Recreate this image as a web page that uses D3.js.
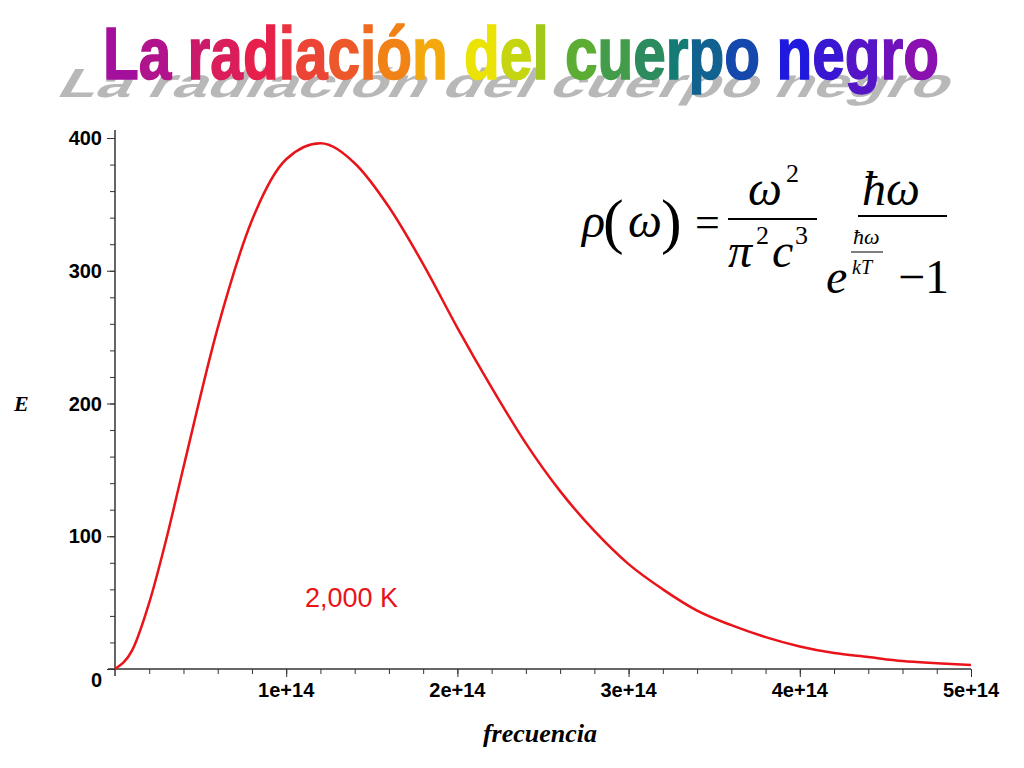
<!DOCTYPE html>
<html>
<head>
<meta charset="utf-8">
<title>La radiación del cuerpo negro</title>
<script src="https://d3js.org/d3.v7.min.js"></script>
<style>body{margin:0;background:#fff}</style>
</head>
<body>
<div id="viz"></div>
<script>
// frequency in units of 1e13, energy E
var freq = [0, 1, 2, 3, 4, 6, 8, 10, 12, 14, 16, 18, 20, 22, 24, 26, 28, 30, 32, 34, 36, 38, 40, 42, 44, 46, 48, 50];
var energy = [0, 14, 50, 98, 152, 257, 338, 384, 396, 381, 348, 305, 257, 212, 170, 134, 104, 79, 60, 44, 33, 24, 17, 12, 9, 6, 4.4, 3.1];
var xTicks = [10, 20, 30, 40, 50];
var xTickLabels = ["1e+14", "2e+14", "3e+14", "4e+14", "5e+14"];
var yTicks = [0, 100, 200, 300, 400];
var title = "La radiación del cuerpo negro";

var svg = d3.select("#viz").append("svg").attr("width", 1024).attr("height", 768);

// title with rainbow letters and gray shadow
var rainbow = d3.scaleLinear()
  .domain([0, 0.18, 0.35, 0.45, 0.6, 0.72, 0.85, 1])
  .range(["#a4109c", "#e8204a", "#f07a18", "#f8e800", "#60b030", "#107878", "#1a1ae0", "#8a10b0"]);
svg.append("text")
  .attr("transform", "translate(55,97) skewX(-30) scale(1,0.55)")
  .attr("font-family", "Liberation Sans").attr("font-weight", "bold")
  .attr("font-size", 74).attr("fill", "#b8b8b8")
  .attr("textLength", 890).attr("lengthAdjust", "spacingAndGlyphs")
  .text(title);
var t = svg.append("text").attr("x", 103).attr("y", 79)
  .attr("font-family", "Liberation Sans").attr("font-weight", "bold")
  .attr("font-size", 74).attr("textLength", 836).attr("lengthAdjust", "spacingAndGlyphs")
  .attr("stroke-width", 1.5);
t.selectAll("tspan").data(title.split("")).enter().append("tspan")
  .attr("fill", function(d, i) { return rainbow(i / (title.length - 1)); })
  .attr("stroke", function(d, i) { return rainbow(i / (title.length - 1)); })
  .text(function(d) { return d; });

var x = d3.scaleLinear().domain([0, 50]).range([115, 971]);
var y = d3.scaleLinear().domain([0, 400]).range([669, 138]);

// axes
svg.append("g").attr("transform", "translate(0,669)")
  .call(d3.axisBottom(x).tickValues(d3.range(2, 51, 2)).tickSize(5).tickFormat(""))
  .call(function(g) { g.select(".domain").remove(); });
svg.append("g").attr("transform", "translate(0,669)")
  .call(d3.axisBottom(x).tickValues(xTicks).tickSize(8).tickFormat(""))
  .call(function(g) { g.select(".domain").remove(); });
svg.append("line").attr("x1", 108).attr("x2", 971).attr("y1", 669).attr("y2", 669)
  .attr("stroke", "#333").attr("stroke-width", 1.5);
svg.append("g").attr("transform", "translate(115,0)")
  .call(d3.axisLeft(y).tickValues(d3.range(20, 401, 20)).tickSize(5).tickFormat(""))
  .call(function(g) { g.select(".domain").remove(); });
svg.append("g").attr("transform", "translate(115,0)")
  .call(d3.axisLeft(y).tickValues(yTicks).tickSize(8).tickFormat(""))
  .call(function(g) { g.select(".domain").remove(); });
svg.append("line").attr("x1", 115).attr("x2", 115).attr("y1", 130).attr("y2", 676)
  .attr("stroke", "#333").attr("stroke-width", 1.5);
svg.selectAll(".tick line").attr("stroke", "#333");

svg.selectAll(".xl").data(xTicks).enter().append("text")
  .attr("x", function(d) { return x(d); }).attr("y", 697)
  .attr("text-anchor", "middle").attr("font-family", "Liberation Sans").attr("font-weight", "bold")
  .attr("font-size", 20).text(function(d, i) { return xTickLabels[i]; });
svg.selectAll(".yl").data(yTicks).enter().append("text")
  .attr("x", 102).attr("y", function(d) { return y(d) + 7 + (d === 0 ? 11 : 0); })
  .attr("text-anchor", "end").attr("font-family", "Liberation Sans").attr("font-weight", "bold")
  .attr("font-size", 20).text(function(d) { return d; });

svg.append("text").attr("x", 14).attr("y", 411).attr("font-family", "Liberation Serif")
  .attr("font-style", "italic").attr("font-weight", "bold").attr("font-size", 22).text("E");
svg.append("text").attr("x", 540).attr("y", 742).attr("text-anchor", "middle")
  .attr("font-family", "Liberation Serif").attr("font-style", "italic").attr("font-weight", "bold")
  .attr("font-size", 26).text("frecuencia");

// curve
svg.append("path").datum(freq)
  .attr("fill", "none").attr("stroke", "#e8141a").attr("stroke-width", 2.5)
  .attr("d", d3.line().curve(d3.curveMonotoneX)
    .x(function(d) { return x(d); })
    .y(function(d, i) { return y(energy[i]); }));

svg.append("text").attr("x", 305).attr("y", 607).attr("font-family", "Liberation Sans")
  .attr("font-size", 27).attr("fill", "#e8141a").text("2,000 K");

// formula
var f = svg.append("g").attr("font-family", "Liberation Serif").attr("fill", "#000");
function tx(xp, yp, s, size, italic) {
  f.append("text").attr("x", xp).attr("y", yp).attr("font-size", size)
    .attr("font-style", italic ? "italic" : "normal").text(s);
}
tx(582, 237, "ρ", 48, true);
tx(603, 242, "(", 62, false);
tx(628, 237, "ω", 48, true);
tx(661, 242, ")", 62, false);
tx(695, 237, "=", 44, false);
tx(748, 205, "ω", 48, true);
tx(786, 182, "2", 26, false);
tx(728, 267, "π", 48, true);
tx(756, 244, "2", 26, false);
tx(772, 267, "c", 48, true);
tx(795, 244, "3", 26, false);
tx(862, 205, "ħω", 48, true);
tx(826, 293, "e", 48, true);
tx(853, 244, "ħω", 22, true);
tx(852, 274, "kT", 20, true);
tx(898, 293, "−1", 48, false);
f.append("line").attr("x1", 728).attr("x2", 817).attr("y1", 219).attr("y2", 219).attr("stroke", "#000").attr("stroke-width", 2);
f.append("line").attr("x1", 858).attr("x2", 947).attr("y1", 216).attr("y2", 216).attr("stroke", "#000").attr("stroke-width", 2);
f.append("line").attr("x1", 851).attr("x2", 883).attr("y1", 252).attr("y2", 252).attr("stroke", "#000").attr("stroke-width", 1);
</script>
</body>
</html>
